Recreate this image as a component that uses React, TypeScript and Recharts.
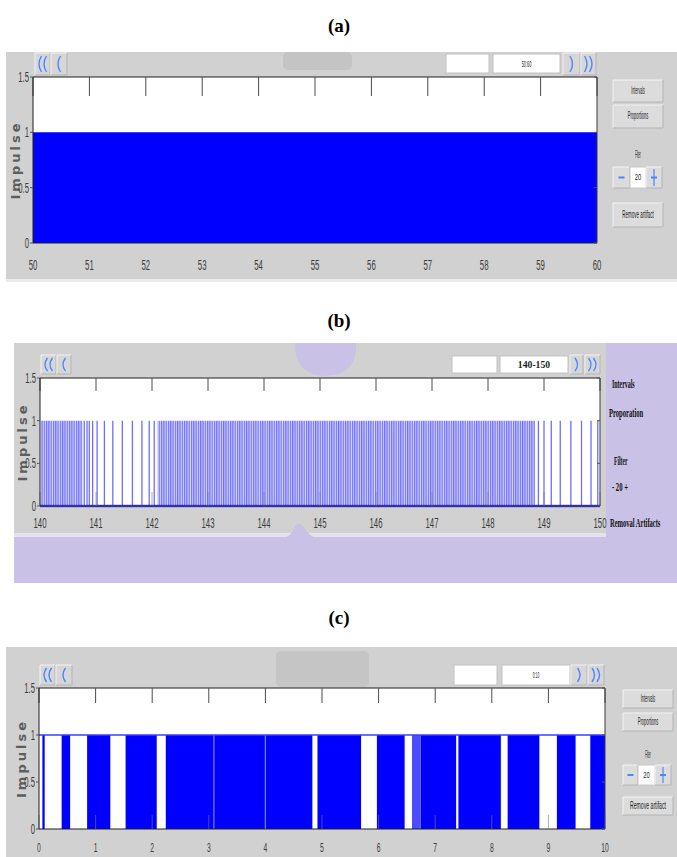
import {
  ComposedChart,
  Area,
  Line,
  XAxis,
  YAxis,
  CartesianGrid,
  ReferenceArea,
  ReferenceLine,
} from "recharts";

const yTicks = [0, 0.5, 1, 1.5];

// (a) 50–60 s: impulses so close together they merge into one block
const ticksA = [50, 51, 52, 53, 54, 55, 56, 57, 58, 59, 60];
const blocksA: [number, number][] = [[50, 60]];

// (b) 140–150 s: single impulses, plus two bursts where they crowd together
const ticksB = [140, 141, 142, 143, 144, 145, 146, 147, 148, 149, 150];
const spikesB = [
  140.79, 140.84, 140.88, 140.94, 141.02, 141.15, 141.3, 141.47, 141.65, 141.82, 141.95, 142.04,
  148.9, 149.0, 149.13, 149.29, 149.48, 149.67, 149.84, 149.96,
];
const burstsB: [number, number][] = [
  [140.02, 140.76],
  [142.1, 148.84],
];

// (c) 0–10 s: filled stretches separated by empty gaps
const ticksC = [0, 1, 2, 3, 4, 5, 6, 7, 8, 9, 10];
const blocksC: [number, number][] = [
  [0.06, 0.1],
  [0.4, 0.55],
  [0.85, 1.26],
  [1.53, 2.08],
  [2.24, 4.83],
  [4.92, 5.69],
  [5.97, 6.46],
  [6.74, 7.37],
  [7.41, 8.16],
  [8.28, 8.84],
  [9.15, 9.48],
  [9.74, 10],
];
const fadedC: [number, number][] = [[6.59, 6.74]];
const streaksC = [3.09, 4.0];

const BLUE = "#0000fe";
const GRAY = "#d1d1d1";
const LAVENDER = "#c9c1e6";
const NAV_BLUE = "#4a86ff";
const SANS = "'Liberation Sans', Arial, sans-serif";
const SERIF = "'Liberation Serif', 'Times New Roman', serif";

const YW = 24;
const XH = 32;
const PAD_T = 12;
const PAD_R = 14;

type Plot = { x: number; y: number; w: number; h: number };

// a block becomes a rectangle: up at its start, down at its end
const toBlocks = (blocks: [number, number][]) =>
  blocks.flatMap(([a, b]) => [
    { x: a, v: 0 },
    { x: a, v: 1 },
    { x: b, v: 1 },
    { x: b, v: 0 },
  ]);
const toSpikes = (xs: number[]) => xs.flatMap((x) => [{ x, v: 0 }, { x, v: 1 }, { x, v: 0 }]);

// keeps the tick line but draws no label
const NoTick = () => <g />;

function XTick(props: any) {
  const { x, y, payload, gap, size } = props;
  return (
    <g transform={`translate(${x},${y + gap}) scale(0.52,1)`}>
      <text textAnchor="middle" dominantBaseline="central" fontSize={size} fill="#3d3d3d" fontFamily={SANS}>
        {payload.value}
      </text>
    </g>
  );
}

function YTick(props: any) {
  const { x, y, payload } = props;
  return (
    <g transform={`translate(${x},${y}) scale(0.55,1)`}>
      <text textAnchor="end" dominantBaseline="central" fontSize={14} fill="#3d3d3d" fontFamily={SANS}>
        {payload.value}
      </text>
    </g>
  );
}

function ImpulseLabel(props: any) {
  const { viewBox, gap } = props;
  if (!viewBox) return null;
  const cx = viewBox.x + viewBox.width - gap;
  const cy = viewBox.y + viewBox.height / 2;
  return (
    <g transform={`translate(${cx},${cy}) rotate(-90)`}>
      <text
        textAnchor="middle"
        dominantBaseline="central"
        fontSize={13}
        fontWeight="bold"
        fill="#5e5e5e"
        fontFamily="'DejaVu Sans', sans-serif"
        letterSpacing={3}
      >
        Impulse
      </text>
    </g>
  );
}

function Panel(props: {
  plot: Plot;
  domain: [number, number];
  ticks: number[];
  topTick: number;
  bottomTick: number;
  labelGap: number;
  labelSize: number;
  data: any[];
  children?: any;
}) {
  const { plot, domain, ticks, topTick, bottomTick, labelGap, labelSize, data, children } = props;
  return (
    <div style={{ position: "absolute", left: 0, top: plot.y - PAD_T }}>
      <ComposedChart
        width={plot.x + plot.w + PAD_R}
        height={plot.h + PAD_T + XH}
        data={data}
        margin={{ top: PAD_T, right: PAD_R, bottom: 0, left: plot.x - YW }}
      >
        <CartesianGrid xAxisId="x" yAxisId="y" horizontal={false} vertical={false} fill="#ffffff" fillOpacity={1} />
        {children}
        <XAxis
          xAxisId="x"
          type="number"
          dataKey="x"
          domain={domain}
          ticks={ticks}
          interval={0}
          allowDataOverflow
          height={XH}
          tickLine={false}
          tickSize={0}
          tickMargin={0}
          axisLine={{ stroke: "#1e1e1e" }}
          tick={<XTick gap={labelGap} size={labelSize} />}
        />
        <XAxis
          xAxisId="top"
          orientation="top"
          mirror
          type="number"
          dataKey="x"
          domain={domain}
          ticks={ticks}
          interval={0}
          allowDataOverflow
          tick={<NoTick />}
          tickSize={topTick}
          tickLine={{ stroke: "#4a4a4a" }}
          axisLine={{ stroke: "#1e1e1e" }}
        />
        {bottomTick > 0 && (
          <XAxis
            xAxisId="bt"
            orientation="bottom"
            mirror
            type="number"
            dataKey="x"
            domain={domain}
            ticks={ticks}
            interval={0}
            allowDataOverflow
            tick={<NoTick />}
            tickSize={bottomTick}
            tickLine={{ stroke: "#777777", strokeOpacity: 0.6 }}
            axisLine={false}
          />
        )}
        <YAxis
          yAxisId="y"
          type="number"
          domain={[0, 1.5]}
          ticks={yTicks}
          interval={0}
          allowDataOverflow
          width={YW}
          tickSize={3}
          tickMargin={1}
          tickLine={{ stroke: "#555" }}
          axisLine={{ stroke: "#1e1e1e" }}
          tick={<YTick />}
          label={<ImpulseLabel gap={18} />}
        />
        <YAxis
          yAxisId="right"
          orientation="right"
          mirror
          type="number"
          domain={[0, 1.5]}
          ticks={yTicks}
          interval={0}
          allowDataOverflow
          tick={<NoTick />}
          tickSize={3}
          tickLine={{ stroke: "#555" }}
          axisLine={{ stroke: "#3a3a3a" }}
        />
      </ComposedChart>
    </div>
  );
}

// narrow GUI text: squeezed horizontally to roughly the width seen in the screenshot
function Cond(props: {
  x: number;
  y: number;
  text: string;
  len?: number;
  size?: number;
  bold?: boolean;
  serif?: boolean;
  fill?: string;
  anchor?: "start" | "middle" | "end";
}) {
  const { x, y, text, len, size = 10, bold, serif, fill = "#1f1f1f", anchor = "middle" } = props;
  const sx = len ? Math.min(1, len / (text.length * size * (serif ? 0.47 : 0.52))) : 1;
  return (
    <g transform={`translate(${x},${y}) scale(${sx.toFixed(3)},1)`}>
      <text
        textAnchor={anchor}
        dominantBaseline="central"
        fontSize={size}
        fontWeight={bold ? "bold" : "normal"}
        fontFamily={serif ? SERIF : SANS}
        fill={fill}
      >
        {text}
      </text>
    </g>
  );
}

function Box(props: { x: number; y: number; w: number; h: number; fill?: string }) {
  const { x, y, w, h, fill = "#dcdcdc" } = props;
  return (
    <g>
      <rect x={x} y={y} width={w} height={h} fill={fill} />
      <path d={`M ${x} ${y + h} L ${x} ${y} L ${x + w} ${y}`} stroke="#f2f2f2" fill="none" />
      <path d={`M ${x} ${y + h} L ${x + w} ${y + h} L ${x + w} ${y}`} stroke="#b4b4b4" fill="none" />
    </g>
  );
}

function Chev(props: { x: number; y: number; w: number; h: number; n: number; dir: number; box?: boolean }) {
  const { x, y, w, h, n, dir, box = true } = props;
  const arcs = [];
  for (let i = 0; i < n; i++) {
    const cx = x + w / 2 + (n === 2 ? (i === 0 ? -2.5 : 2.5) : 0) - dir * 1.5;
    arcs.push(
      <path
        key={i}
        d={`M ${cx} ${y + 3} Q ${cx + dir * 5} ${y + h / 2} ${cx} ${y + h - 3}`}
        stroke={NAV_BLUE}
        strokeWidth={1.4}
        fill="none"
      />
    );
  }
  return (
    <g>
      {box && <Box x={x} y={y} w={w} h={h} fill="#d6d6d6" />}
      {arcs}
    </g>
  );
}

function TextBox(props: { x: number; y: number; w: number; h: number; text?: string; bold?: boolean; serif?: boolean; len?: number; size?: number }) {
  const { x, y, w, h, text, bold, serif, len, size = 9 } = props;
  return (
    <g>
      <rect x={x} y={y} width={w} height={h} fill="#ffffff" stroke="#c2c2c2" />
      {text && <Cond x={x + w / 2} y={y + h / 2} text={text} len={len} size={size} bold={bold} serif={serif} />}
    </g>
  );
}

function FilterCtl(props: { x: number; y: number; h: number; wm: number; wv: number; wp: number; value: string }) {
  const { x, y, h, wm, wv, wp, value } = props;
  const mx = x + wm / 2;
  const px = x + wm + wv + wp / 2;
  const cy = y + h / 2;
  return (
    <g>
      <Box x={x} y={y} w={wm} h={h} />
      <line x1={mx - 3} x2={mx + 3} y1={cy} y2={cy} stroke={NAV_BLUE} strokeWidth={2} />
      <rect x={x + wm} y={y} width={wv} height={h} fill="#ffffff" stroke="#c8c8c8" />
      <Cond x={x + wm + wv / 2} y={cy} text={value} len={6} size={9} />
      <Box x={x + wm + wv} y={y} w={wp} h={h} />
      <line x1={px - 3} x2={px + 3} y1={cy} y2={cy} stroke={NAV_BLUE} strokeWidth={2} />
      <line x1={px} x2={px} y1={y + 2} y2={y + h - 2} stroke={NAV_BLUE} strokeWidth={1.2} />
    </g>
  );
}

function Chrome() {
  return (
    <svg width={677} height={857} style={{ position: "absolute", left: 0, top: 0 }}>
      {/* ---------- (a) ---------- */}
      <Cond x={339} y={25} text="(a)" size={19} bold serif fill="#000" />
      <rect x={6} y={52} width={671} height={227} fill={GRAY} />
      <rect x={6} y={279} width={671} height={3} fill="#ececec" />
      <rect x={283} y={52} width={69} height={18} rx={5} fill="#c4c4c4" />
      <Chev x={35} y={53} w={15} h={22} n={2} dir={-1} />
      <Chev x={51} y={53} w={16} h={22} n={1} dir={-1} />
      <TextBox x={446} y={54} w={43} h={19} />
      <TextBox x={493} y={54} w={67} h={19} text="50:60" len={10} />
      <Chev x={563} y={53} w={17} h={22} n={1} dir={1} />
      <Chev x={581} y={53} w={15} h={22} n={2} dir={1} />
      <Box x={613} y={80} w={50} h={22} />
      <Cond x={638} y={91} text="Intervals" len={17} />
      <Box x={613} y={105} w={50} h={23} />
      <Cond x={638} y={116} text="Proportions" len={23} />
      <Cond x={638} y={155} text="Filter" len={8} />
      <FilterCtl x={613} y={167} h={21} wm={17} wv={16} wp={16} value="20" />
      <Box x={613} y={203} w={50} h={24} />
      <Cond x={638} y={215} text="Remove artifact" len={35} />

      {/* ---------- (b) ---------- */}
      <Cond x={339} y={320} text="(b)" size={19} bold serif fill="#000" />
      <rect x={14} y={343} width={663} height={240} fill={LAVENDER} />
      <rect x={14} y={343} width={592} height={190} fill={GRAY} />
      <rect x={14} y={533} width={592} height={4} fill="#e4e2ec" />
      <path d="M 295 343 L 356 343 Q 358 374 326 376 Q 294 375 295 343 Z" fill={LAVENDER} />
      <path d="M 283 538 Q 291 537 294 528 Q 298 520 304 527 Q 309 536 316 538 Z" fill={LAVENDER} />
      <Chev x={41} y={355} w={15} h={19} n={2} dir={-1} />
      <Chev x={57} y={355} w={14} h={19} n={1} dir={-1} />
      <TextBox x={452} y={356} w={45} h={17} />
      <TextBox x={500} y={356} w={68} h={17} text="140-150" len={32} bold serif size={11} />
      <Chev x={570} y={355} w={13} h={19} n={1} dir={1} />
      <Chev x={585} y={355} w={15} h={19} n={2} dir={1} />
      <Cond x={612} y={383} text="Intervals" len={25} size={13} bold serif anchor="start" fill="#111" />
      <Cond x={609} y={413} text="Proporation" len={34} size={13} bold serif anchor="start" fill="#111" />
      <Cond x={614} y={460} text="Filter" len={16} size={13} bold serif anchor="start" fill="#111" />
      <Cond x={612} y={487} text="-  20  +" len={25} size={13} bold serif anchor="start" fill="#111" />
      <Cond x={610} y={523} text="Removal Artifacts" len={52} size={13} bold serif anchor="start" fill="#111" />

      {/* ---------- (c) ---------- */}
      <Cond x={339} y={617} text="(c)" size={19} bold serif fill="#000" />
      <rect x={6} y={647} width={671} height={210} fill={GRAY} />
      <rect x={276} y={651} width={93} height={36} rx={5} fill="#c5c5c5" />
      <Chev x={40} y={665} w={15} h={20} n={2} dir={-1} />
      <Chev x={56} y={665} w={16} h={20} n={1} dir={-1} />
      <TextBox x={454} y={665} w={43} h={20} />
      <TextBox x={502} y={665} w={68} h={20} text="0:10" len={7} />
      <Chev x={571} y={665} w={16} h={20} n={1} dir={1} />
      <Chev x={588} y={665} w={16} h={20} n={2} dir={1} />
      <Box x={623} y={690} w={50} h={18} />
      <Cond x={648} y={699} text="Intervals" len={18} />
      <Box x={623} y={713} w={50} h={18} />
      <Cond x={648} y={722} text="Proportions" len={23} />
      <Cond x={648} y={755} text="Filter" len={8} />
      <FilterCtl x={623} y={765} h={20} wm={15} wv={17} wp={16} value="20" />
      <Box x={623} y={797} w={50} h={18} />
      <Cond x={648} y={806} text="Remove artifact" len={40} />
    </svg>
  );
}

export default function App() {
  return (
    <div
      style={{
        position: "absolute",
        left: 0,
        top: 0,
        width: 677,
        height: 857,
        overflow: "hidden",
        background: "#ffffff",
      }}
    >
      <Chrome />

      {/* (a) */}
      <Panel
        plot={{ x: 33, y: 77, w: 564, h: 166 }}
        domain={[50, 60]}
        ticks={ticksA}
        topTick={19}
        bottomTick={0}
        labelGap={22}
        labelSize={15}
        data={toBlocks(blocksA)}
      >
        <Area
          xAxisId="x"
          yAxisId="y"
          type="linear"
          dataKey="v"
          stroke="none"
          fill={BLUE}
          fillOpacity={1}
          dot={false}
          activeDot={false}
          isAnimationActive={false}
        />
      </Panel>

      {/* (b) */}
      <Panel
        plot={{ x: 40, y: 378, w: 560, h: 128 }}
        domain={[140, 150]}
        ticks={ticksB}
        topTick={13}
        bottomTick={14}
        labelGap={17}
        labelSize={15}
        data={toSpikes(spikesB)}
      >
        <defs>
          <pattern id="burstB" patternUnits="userSpaceOnUse" width={2.3} height={10}>
            <rect width={2.3} height={10} fill="#d4d4ff" />
            <rect width={1.2} height={10} fill="#6f6fff" />
          </pattern>
        </defs>
        {burstsB.map(([a, b], i) => (
          <ReferenceArea
            key={`burst-${i}`}
            xAxisId="x"
            yAxisId="y"
            x1={a}
            x2={b}
            y1={0}
            y2={1}
            fill="url(#burstB)"
            fillOpacity={1}
            stroke="none"
            ifOverflow="hidden"
          />
        ))}
        <Line
          xAxisId="x"
          yAxisId="y"
          type="linear"
          dataKey="v"
          stroke="#6e6eff"
          strokeWidth={1.3}
          dot={false}
          activeDot={false}
          isAnimationActive={false}
        />
        <ReferenceLine xAxisId="x" yAxisId="y" y={0} stroke="#4a4aff" strokeWidth={2.5} />
      </Panel>

      {/* (c) */}
      <Panel
        plot={{ x: 39, y: 688, w: 566, h: 141 }}
        domain={[0, 10]}
        ticks={ticksC}
        topTick={15}
        bottomTick={14}
        labelGap={19}
        labelSize={13}
        data={toBlocks(blocksC)}
      >
        <Area
          xAxisId="x"
          yAxisId="y"
          type="linear"
          dataKey="v"
          stroke="none"
          fill={BLUE}
          fillOpacity={1}
          dot={false}
          activeDot={false}
          isAnimationActive={false}
        />
        {fadedC.map(([a, b], i) => (
          <ReferenceArea
            key={`faded-${i}`}
            xAxisId="x"
            yAxisId="y"
            x1={a}
            x2={b}
            y1={0}
            y2={1}
            fill="#4c4cff"
            fillOpacity={1}
            stroke="none"
          />
        ))}
        {streaksC.map((x, i) => (
          <ReferenceLine
            key={`streak-${i}`}
            xAxisId="x"
            yAxisId="y"
            segment={[
              { x, y: 0 },
              { x, y: 1 },
            ]}
            stroke="#7f7fff"
            strokeWidth={1.2}
          />
        ))}
        <ReferenceLine xAxisId="x" yAxisId="y" y={1} stroke="#3c3cff" strokeWidth={1.5} />
      </Panel>
    </div>
  );
}
